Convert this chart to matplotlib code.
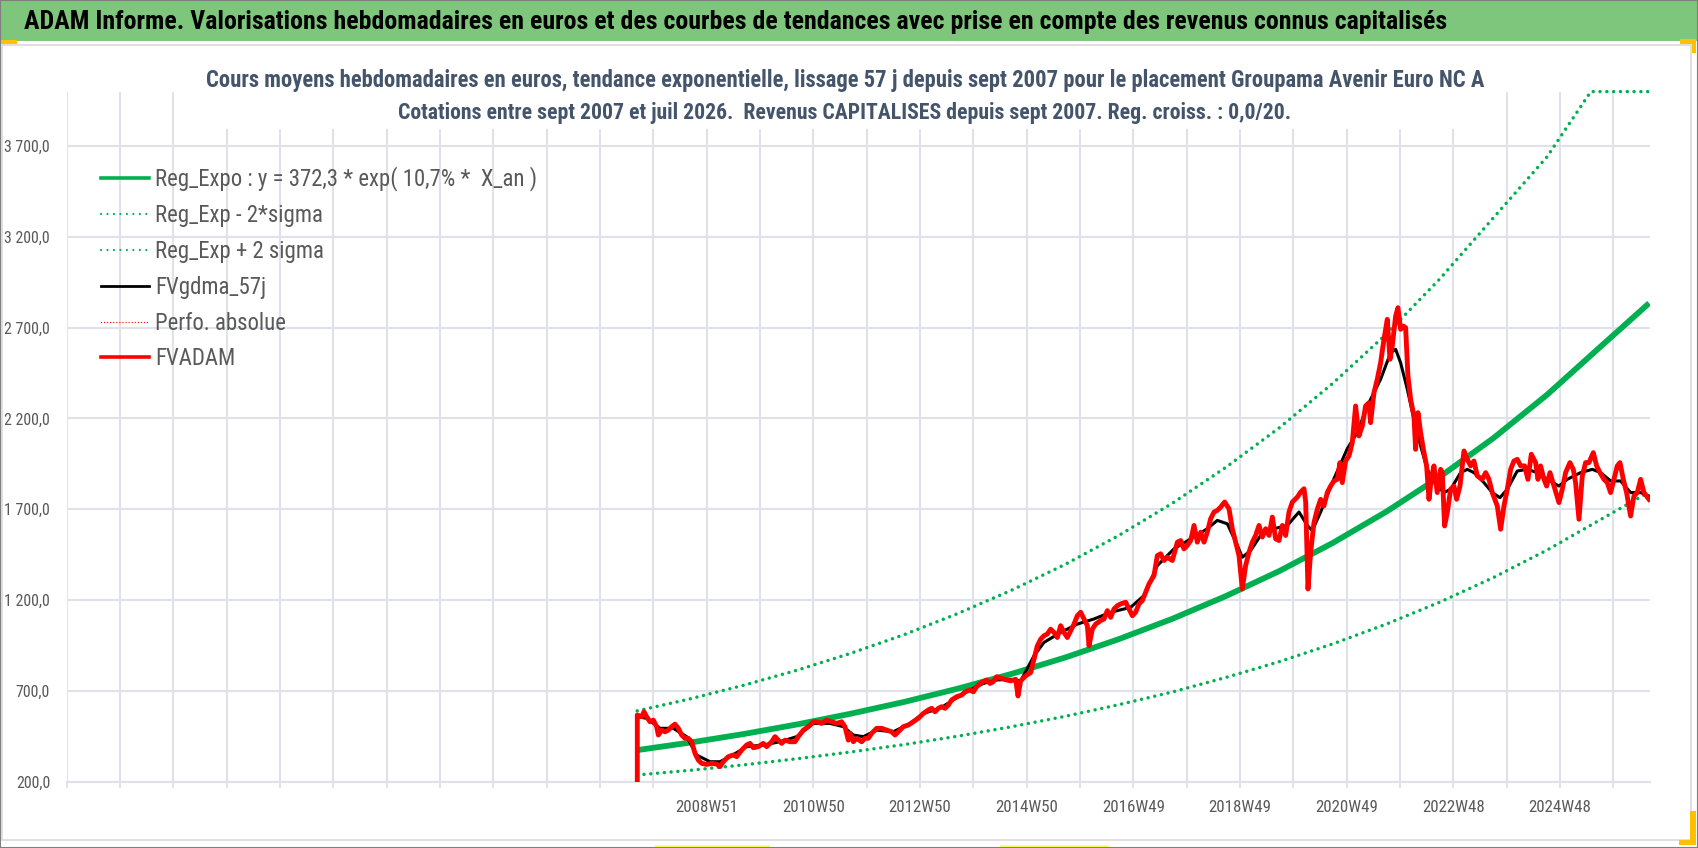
import os
import numpy as np
import matplotlib
matplotlib.use('Agg')
import matplotlib.pyplot as plt
from matplotlib.lines import Line2D
from matplotlib.patches import Rectangle
from matplotlib import font_manager
from matplotlib.font_manager import FontProperties

# ---- data (x in decimal years) ----
fvadam_x = [2007.672, 2007.672, 2007.753, 2007.797, 2007.847, 2007.909, 2007.971, 2008.034, 2008.065, 2008.127,
            2008.189, 2008.252, 2008.314, 2008.376, 2008.439, 2008.501, 2008.563, 2008.625, 2008.688, 2008.750,
            2008.812, 2008.875, 2008.968, 2009.061, 2009.155, 2009.217, 2009.279, 2009.373, 2009.466, 2009.529,
            2009.622, 2009.715, 2009.778, 2009.840, 2009.933, 2010.027, 2010.089, 2010.183, 2010.245, 2010.307,
            2010.370, 2010.432, 2010.525, 2010.619, 2010.681, 2010.774, 2010.868, 2010.961, 2011.024, 2011.117,
            2011.210, 2011.304, 2011.397, 2011.491, 2011.553, 2011.615, 2011.646, 2011.709, 2011.771, 2011.865,
            2011.927, 2011.989, 2012.051, 2012.145, 2012.238, 2012.332, 2012.425, 2012.488, 2012.550, 2012.643,
            2012.737, 2012.830, 2012.923, 2013.017, 2013.110, 2013.173, 2013.235, 2013.297, 2013.359, 2013.422,
            2013.484, 2013.546, 2013.640, 2013.733, 2013.796, 2013.889, 2013.951, 2014.013, 2014.076, 2014.138,
            2014.200, 2014.263, 2014.325, 2014.387, 2014.550, 2014.649, 2014.742, 2014.786, 2014.836, 2014.929,
            2015.023, 2015.085, 2015.147, 2015.210, 2015.272, 2015.334, 2015.396, 2015.459, 2015.521, 2015.583,
            2015.646, 2015.708, 2015.770, 2015.833, 2015.895, 2015.957, 2016.019, 2016.082, 2016.113, 2016.175,
            2016.237, 2016.331, 2016.393, 2016.455, 2016.518, 2016.580, 2016.642, 2016.705, 2016.798, 2016.860,
            2016.923, 2016.985, 2017.047, 2017.109, 2017.172, 2017.234, 2017.327, 2017.390, 2017.452, 2017.514,
            2017.577, 2017.670, 2017.764, 2017.826, 2017.888, 2017.950, 2018.013, 2018.075, 2018.137, 2018.200,
            2018.262, 2018.324, 2018.386, 2018.449, 2018.511, 2018.573, 2018.648, 2018.729, 2018.791, 2018.854,
            2018.916, 2018.978, 2019.040, 2019.103, 2019.165, 2019.227, 2019.290, 2019.352, 2019.414, 2019.477,
            2019.539, 2019.601, 2019.663, 2019.726, 2019.788, 2019.850, 2019.913, 2020.006, 2020.068, 2020.131,
            2020.162, 2020.205, 2020.254, 2020.317, 2020.379, 2020.441, 2020.503, 2020.566, 2020.628, 2020.690,
            2020.753, 2020.802, 2020.846, 2020.908, 2020.971, 2021.033, 2021.095, 2021.157, 2021.220, 2021.282,
            2021.344, 2021.375, 2021.438, 2021.500, 2021.562, 2021.625, 2021.687, 2021.737, 2021.780, 2021.843,
            2021.886, 2021.936, 2021.986, 2022.030, 2022.073, 2022.123, 2022.185, 2022.216, 2022.260, 2022.310,
            2022.372, 2022.422, 2022.466, 2022.509, 2022.559, 2022.621, 2022.684, 2022.715, 2022.758, 2022.808,
            2022.870, 2022.933, 2022.983, 2023.045, 2023.120, 2023.182, 2023.244, 2023.306, 2023.369, 2023.462,
            2023.525, 2023.587, 2023.649, 2023.743, 2023.805, 2023.867, 2023.929, 2023.992, 2024.054, 2024.116,
            2024.179, 2024.253, 2024.316, 2024.378, 2024.459, 2024.503, 2024.552, 2024.615, 2024.665, 2024.727,
            2024.802, 2024.895, 2024.957, 2025.019, 2025.100, 2025.163, 2025.206, 2025.269, 2025.331, 2025.393,
            2025.456, 2025.537, 2025.599, 2025.661, 2025.736, 2025.798, 2025.860, 2025.923, 2025.985, 2026.035,
            2026.097, 2026.159, 2026.234, 2026.296, 2026.359, 2026.421, 2026.483, 2026.577]
fvadam_y = [200, 567, 558, 585, 558, 530, 539, 503, 457, 484,
            475, 484, 503, 517, 494, 457, 439, 439, 420, 356,
            319, 301, 295, 301, 297, 283, 310, 338, 347, 338,
            374, 402, 411, 387, 393, 411, 393, 420, 448, 429,
            411, 429, 420, 420, 448, 484, 503, 530, 530, 521,
            539, 530, 521, 530, 503, 429, 466, 420, 439, 420,
            439, 439, 466, 494, 494, 484, 475, 457, 475, 503,
            512, 530, 549, 576, 595, 604, 585, 604, 613, 604,
            622, 650, 668, 677, 695, 705, 695, 723, 741, 751,
            760, 741, 751, 778, 762, 755, 764, 672, 755, 783,
            801, 875, 948, 985, 1004, 1013, 1040, 1022, 994, 1059,
            1022, 994, 1031, 1068, 1114, 1133, 1096, 1059, 948, 1040,
            1068, 1087, 1096, 1142, 1105, 1151, 1169, 1179, 1188, 1151,
            1114, 1133, 1179, 1197, 1243, 1289, 1335, 1445, 1455, 1418,
            1436, 1418, 1519, 1528, 1482, 1501, 1528, 1611, 1519, 1574,
            1519, 1574, 1648, 1685, 1694, 1712, 1740, 1703, 1593, 1519,
            1445, 1261, 1390, 1464, 1519, 1556, 1611, 1547, 1593, 1556,
            1657, 1537, 1528, 1611, 1556, 1685, 1740, 1767, 1795, 1813,
            1740, 1261, 1461, 1627, 1700, 1755, 1718, 1792, 1828, 1856,
            1865, 1957, 1847, 1966, 1994, 2067, 2269, 2104, 2159, 2269,
            2287, 2177, 2342, 2416, 2507, 2636, 2746, 2526, 2599, 2764,
            2810, 2691, 2709, 2700, 2434, 2306, 2214, 2030, 2232, 2122,
            2012, 1939, 1755, 1865, 1939, 1792, 1920, 1902, 1608, 1682,
            1810, 1828, 1755, 1828, 2021, 1975, 1939, 1966, 1884, 1865,
            1902, 1865, 1792, 1718, 1590, 1718, 1810, 1920, 1966, 1975,
            1939, 1939, 1865, 2003, 1957, 1865, 1939, 1865, 1828, 1902,
            1828, 1737, 1810, 1902, 1957, 1920, 1847, 1645, 1884, 1957,
            1957, 2012, 1939, 1902, 1865, 1847, 1792, 1865, 1939, 1957,
            1865, 1792, 1663, 1773, 1792, 1865, 1792, 1755]

gdma_x = [2007.672, 2007.847, 2008.096, 2008.345, 2008.594, 2008.781, 2009.030, 2009.217, 2009.404, 2009.715,
          2010.027, 2010.338, 2010.650, 2010.961, 2011.273, 2011.522, 2011.709, 2011.896, 2012.145, 2012.456,
          2012.768, 2013.017, 2013.328, 2013.577, 2013.827, 2014.138, 2014.387, 2014.649, 2014.836, 2015.085,
          2015.272, 2015.583, 2015.895, 2016.206, 2016.518, 2016.891, 2017.140, 2017.390, 2017.701, 2018.013,
          2018.324, 2018.511, 2018.698, 2018.885, 2018.978, 2019.134, 2019.321, 2019.570, 2019.819, 2020.037,
          2020.193, 2020.286, 2020.442, 2020.691, 2020.940, 2021.126, 2021.313, 2021.562, 2021.749, 2021.843,
          2021.936, 2022.061, 2022.185, 2022.310, 2022.434, 2022.621, 2022.746, 2022.870, 2023.057, 2023.182,
          2023.306, 2023.493, 2023.649, 2023.792, 2023.929, 2024.116, 2024.303, 2024.490, 2024.677, 2024.895,
          2025.051, 2025.300, 2025.518, 2025.674, 2025.860, 2026.047, 2026.234, 2026.421, 2026.577]
gdma_y = [558, 549, 494, 494, 448, 347, 310, 310, 338, 393,
          402, 420, 448, 521, 521, 503, 457, 448, 484, 475,
          521, 576, 604, 650, 695, 741, 760, 764, 755, 893,
          967, 1022, 1068, 1096, 1133, 1160, 1225, 1390, 1482, 1537,
          1593, 1639, 1620, 1501, 1436, 1473, 1556, 1593, 1611, 1685,
          1611, 1583, 1685, 1869, 2034, 2122, 2269, 2416, 2562, 2581,
          2507, 2361, 2195, 2049, 1920, 1828, 1792, 1810, 1902, 1920,
          1902, 1847, 1792, 1764, 1810, 1911, 1920, 1902, 1865, 1828,
          1865, 1902, 1920, 1902, 1856, 1856, 1792, 1792, 1773]

trend_x = [2007.67, 2008.67, 2009.67, 2010.67, 2011.67, 2012.67, 2013.67, 2014.67, 2015.67, 2016.67,
           2017.67, 2018.67, 2019.67, 2020.67, 2021.67, 2022.67, 2023.67, 2024.67, 2025.67, 2026.58]
reg_expo = [374, 416, 463, 516, 575, 640, 713, 794, 884, 985,
            1097, 1222, 1360, 1515, 1687, 1879, 2092, 2330, 2595, 2835]
reg_minus = [237, 263, 293, 327, 364, 405, 451, 503, 560, 624,
             694, 774, 861, 959, 1068, 1189, 1324, 1475, 1643, 1795]
upper_x = [2007.67, 2008.67, 2009.67, 2010.67, 2011.67, 2012.67, 2013.67, 2014.67, 2015.67, 2016.67,
           2017.67, 2018.67, 2019.67, 2020.67, 2021.67, 2022.67, 2023.67, 2024.67, 2025.49, 2026.58]
reg_plus = [590, 657, 732, 815, 908, 1011, 1127, 1255, 1397, 1556,
            1733, 1931, 2149, 2394, 2665, 2969, 3305, 3640, 4000, 4000]

y_ticks = [200, 700, 1200, 1700, 2200, 2700, 3200, 3700]
y_labels = ['200,0', '700,0', '1 200,0', '1 700,0', '2 200,0', '2 700,0', '3 200,0', '3 700,0']
x_labels = ['2008W51', '2010W50', '2012W50', '2014W50', '2016W49', '2018W49', '2020W49', '2022W48', '2024W48']

legend_labels = ['Reg_Expo : y = 372,3 * exp( 10,7% *  X_an )', 'Reg_Exp - 2*sigma', 'Reg_Exp + 2 sigma',
                 'FVgdma_57j', 'Perfo. absolue', 'FVADAM']

bar_title = ('ADAM Informe. Valorisations hebdomadaires en euros et des courbes de tendances '
             'avec prise en compte des revenus connus capitalisés')
title_1 = ('Cours moyens hebdomadaires en euros, tendance exponentielle, lissage 57 j depuis sept 2007 '
           'pour le placement Groupama Avenir Euro NC A')
title_2 = 'Cotations entre sept 2007 et juil 2026.  Revenus CAPITALISES depuis sept 2007. Reg. croiss. : 0,0/20.'

# ---- styles ----
GREEN = '#00b050'
RED = '#ff0000'
GRID = '#dfe2e8'
TXT = '#595959'
TITLE_C = '#44546a'

# look for a narrow font (the Excel chart text is horizontally squeezed)
files = {os.path.basename(f.fname).lower(): f.fname for f in font_manager.fontManager.ttflist}
pairs = [('liberationsansnarrow-regular.ttf', 'liberationsansnarrow-bold.ttf'),
         ('notosans-condensed.ttf', 'notosans-condensedbold.ttf'),
         ('robotocondensed-regular.ttf', 'robotocondensed-bold.ttf'),
         ('opensans-condensedregular.ttf', 'opensans-condensedbold.ttf'),
         ('dejavusanscondensed.ttf', 'dejavusanscondensed-bold.ttf')]
REG_FILE, BOLD_FILE = None, None
for r, b in pairs:
    if r in files and b in files:
        REG_FILE, BOLD_FILE = files[r], files[b]
        break


def fprop(size, bold=False):
    if REG_FILE:
        return FontProperties(fname=BOLD_FILE if bold else REG_FILE, size=size)
    return FontProperties(family='Liberation Sans', weight='bold' if bold else 'normal', size=size)


W, H = 1698, 848
fig = plt.figure(figsize=(W / 100, H / 100), dpi=100)
fig.patch.set_facecolor('white')
renderer = fig.canvas.get_renderer()


def fx(px):
    return px / W


def fy(py):
    return 1 - py / H


def fit(text, target_px, bold=False, max_size=40):
    # font size that makes `text` about target_px wide
    t = fig.text(0, 0, text, fontproperties=fprop(20, bold))
    w = t.get_window_extent(renderer).width
    t.remove()
    return min(20 * target_px / w, max_size)


# axes placement (pixel measurements from the reference)
ax = fig.add_axes([fx(66.7), fy(781.7), fx(1649.5 - 66.7), (781.7 - 91.6) / H])

# category axis: one grid line every 52 weeks, labels every 104 weeks
week52 = 52 * 7 / 365.25
first_lab = 2008.968
ks = list(range(-12, 18))
grid_pos = [first_lab + k * week52 for k in ks]
x_min = first_lab - 12 * week52
x_max = first_lab + 17.619

ax.plot(gdma_x, gdma_y, color='black', lw=2.2, zorder=3)
ax.plot(fvadam_x, fvadam_y, color=RED, lw=3.5, zorder=4, solid_joinstyle='round')
ax.plot(trend_x, reg_expo, color=GREEN, lw=4.2, zorder=2, solid_capstyle='butt')
ax.plot(trend_x, reg_minus, color=GREEN, lw=2.5, linestyle=(0, (0.01, 1.95)),
        dash_capstyle='round', zorder=2)
ax.plot(upper_x, reg_plus, color=GREEN, lw=2.5, linestyle=(0, (0.01, 1.95)),
        dash_capstyle='round', zorder=2, clip_on=False)
ax.plot([], [], color=RED, lw=1.0, linestyle=(0, (0.01, 2.2)))  # Perfo. absolue (no points shown)

ax.set_xlim(x_min, x_max)
ax.set_ylim(200, 4000)

xt_labels = [x_labels[k // 2] if (k >= 0 and k % 2 == 0 and k // 2 < len(x_labels)) else '' for k in ks]
ax.set_xticks(grid_pos)
ax.set_xticklabels(xt_labels)
ax.set_yticks(y_ticks)
ax.set_yticklabels(y_labels)

ax.grid(True, color=GRID, lw=1.5)
ax.set_axisbelow(True)
for s in ['top', 'right', 'left']:
    ax.spines[s].set_visible(False)
ax.spines['bottom'].set_color(GRID)
ax.spines['bottom'].set_linewidth(1.5)

ax.tick_params(axis='x', length=4.5, width=1.5, color=GRID, labelcolor=TXT, pad=9)
ax.tick_params(axis='y', length=0, labelcolor=TXT, pad=12)
xs = fit('2008W51', 63)
ys = fit('3 700,0', 46)
for lab in ax.get_xticklabels():
    lab.set_fontproperties(fprop(xs))
for lab in ax.get_yticklabels():
    lab.set_fontproperties(fprop(ys))

# legend (no frame, grid visible through it)
leg_size = fit(legend_labels[0], 382)
leg_px = leg_size * 100 / 72
probe = fig.text(0, 0, 'lp', fontproperties=fprop(leg_size))
row_h = probe.get_window_extent(renderer).height
probe.remove()
handles = [
    Line2D([], [], color=GREEN, lw=2.6),
    Line2D([], [], color=GREEN, lw=1.6, linestyle=(0, (0.01, 2.9)), dash_capstyle='round'),
    Line2D([], [], color=GREEN, lw=1.6, linestyle=(0, (0.01, 2.9)), dash_capstyle='round'),
    Line2D([], [], color='black', lw=2.0),
    Line2D([], [], color=RED, lw=1.0, linestyle=(0, (0.01, 2.2)), dash_capstyle='round'),
    Line2D([], [], color=RED, lw=2.6),
]
leg = fig.legend(handles, legend_labels, loc='upper left', bbox_to_anchor=(fx(100.7), fy(178 - row_h / 2)),
                 frameon=False, prop=fprop(leg_size), labelcolor=TXT, borderpad=0, borderaxespad=0,
                 handlelength=48.6 / leg_px, handletextpad=5.7 / leg_px,
                 labelspacing=max(35.8 - row_h, 0) / leg_px)

# decoration: page frame, title bar, chart border, title box
fig.patches.append(Rectangle((fx(2), fy(840)), fx(1689), (840 - 45) / H, transform=fig.transFigure,
                             facecolor='none', edgecolor='#d9d9d9', lw=1.2, zorder=0))
fig.patches.append(Rectangle((0, fy(41)), 1, 41 / H, transform=fig.transFigure,
                             facecolor='#7dc67c', edgecolor='none', zorder=5))
fig.patches.append(Rectangle((fx(198), fy(129)), fx(1492 - 198), (129 - 88) / H, transform=fig.transFigure,
                             facecolor='white', edgecolor='none', zorder=5))
for (x0, y0, w, h, c) in [(0, 40, 17, 4, '#ffc000'), (1680, 39, 16, 5, '#ffc000'), (1692, 39, 4, 14, '#ffc000'),
                          (1690, 811, 6, 34, '#ffc000'), (1679, 840, 17, 5, '#ffc000'),
                          (655, 845, 115, 2, '#ffff70'), (1000, 845, 109, 2, '#ffff70')]:
    fig.patches.append(Rectangle((fx(x0), fy(y0 + h)), fx(w), h / H, transform=fig.transFigure,
                                 facecolor=c, edgecolor='none', zorder=6))
fig.patches.append(Rectangle((0, 0), 1, 1, transform=fig.transFigure,
                             facecolor='none', edgecolor='#7f7f7f', lw=1.5, zorder=7))

fig.text(fx(24), fy(22), bar_title, fontproperties=fprop(fit(bar_title, 1423, True), True),
         color='black', ha='left', va='center', zorder=8)
fig.text(fx(845), fy(81), title_1, fontproperties=fprop(fit(title_1, 1279, True), True),
         color=TITLE_C, ha='center', va='center', zorder=8)
fig.text(fx(845), fy(113), title_2, fontproperties=fprop(fit(title_2, 894, True), True),
         color=TITLE_C, ha='center', va='center', zorder=8)

fig.savefig('out.png', dpi=100)
